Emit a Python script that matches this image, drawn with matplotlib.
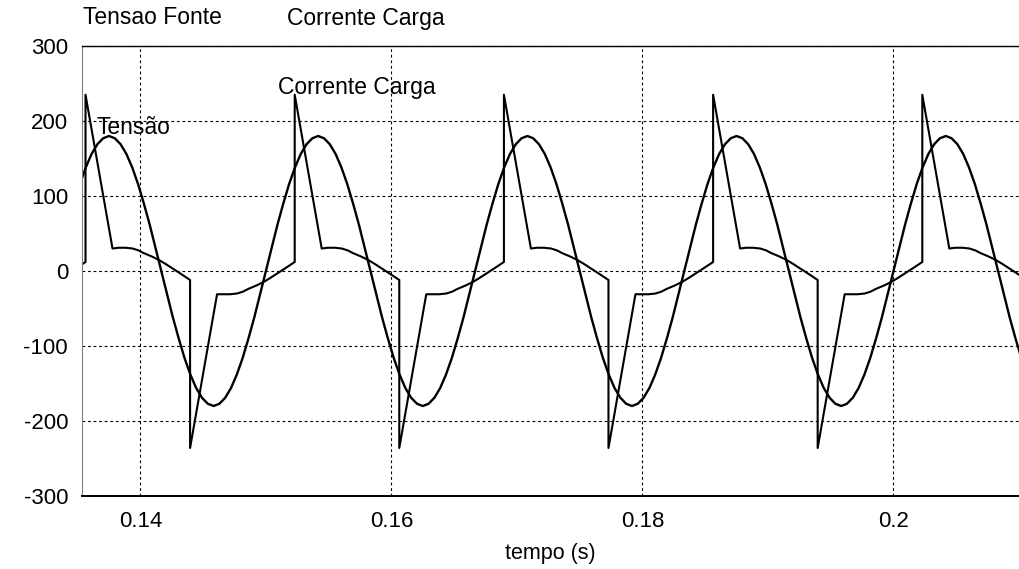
import numpy as np
import matplotlib
matplotlib.use("Agg")
import matplotlib.pyplot as plt

plt.rcParams['font.family'] = ['Liberation Sans', 'DejaVu Sans']
plt.rcParams['axes.unicode_minus'] = False

# frequencia da rede
periodo = 1 / 60  # s

# tensao da fonte: leitura a cada 10 graus de um ciclo (V), ciclo comeca no zero de subida
tensao_ciclo = [0, 31, 62, 90, 116, 138, 156, 169, 177, 180, 177, 169, 156, 138, 116, 90, 62, 31,
                0, -31, -62, -90, -116, -138, -156, -169, -177, -180, -177, -169, -156, -138, -116, -90, -62, -31]
ciclos_tensao = [8, 9, 10, 11, 12]

# corrente da carga: pontos lidos em um ciclo (ms a partir do pico positivo, A)
corrente_t_ms = [0, 0, 2.15, 2.63, 3.19, 3.75, 4.22, 4.62, 5.26, 5.82, 6.37, 6.93, 7.57, 8.33,
                 8.33, 10.48, 10.96, 11.52, 12.08, 12.55, 12.95, 13.59, 14.15, 14.70, 15.26, 15.90]
corrente_ciclo = [12, 235, 30, 31, 31, 30, 27.5, 24, 19.5, 15, 9.5, 3.5, -3.5, -12,
                  -236, -31, -31, -31, -30, -27.5, -24, -19.5, -15, -9.5, -3.5, 3.5]
inicio_corrente = 0.13563  # s, primeiro pico visivel
ciclos_corrente = [-1, 0, 1, 2, 3, 4]

# monta as series repetindo o ciclo lido
fase = np.arange(len(tensao_ciclo)) / len(tensao_ciclo) * periodo
t_tensao = np.concatenate([fase + k * periodo for k in ciclos_tensao])
v_tensao = np.tile(tensao_ciclo, len(ciclos_tensao))

t_corr = np.concatenate([np.array(corrente_t_ms) / 1000 + inicio_corrente + k * periodo
                         for k in ciclos_corrente])
i_corr = np.tile(corrente_ciclo, len(ciclos_corrente))

fig = plt.figure(figsize=(10.19, 5.69), dpi=100)
ax = fig.add_axes([82 / 1019, 1 - 496 / 569, 1 - 82 / 1019, 450 / 569])

ax.plot(t_tensao, v_tensao, color='black', lw=1.7)
ax.plot(t_corr, i_corr, color='black', lw=1.5)

ax.set_xlim(0.13535, 0.2100)
ax.set_ylim(-300, 300)
ax.set_xticks([0.14, 0.16, 0.18, 0.2])
ax.set_xticklabels(['0.14', '0.16', '0.18', '0.2'])
ax.set_yticks([-300, -200, -100, 0, 100, 200, 300])
ax.tick_params(axis='both', length=0, labelsize=16)
ax.tick_params(axis='y', pad=10)
ax.tick_params(axis='x', pad=11)
ax.grid(True, color='black', linestyle=(0, (2.5, 2.5)), linewidth=0.8)

ax.spines['right'].set_visible(False)
ax.spines['left'].set_color('#808080')
ax.spines['top'].set_linewidth(1.0)
ax.spines['bottom'].set_linewidth(1.4)

ax.set_xlabel('tempo (s)', fontsize=15.5, labelpad=8)

# legendas no topo
fig.text(83 / 1019, 1 - 18 / 569, 'Tensao Fonte', fontsize=16.5, va='center', ha='left')
fig.text(287 / 1019, 1 - 18 / 569, 'Corrente Carga', fontsize=16.5, va='center', ha='left')

# rotulos das curvas
ax.text(0.15096, 245, 'Corrente Carga', fontsize=16.5, va='center', ha='left')
ax.text(0.13654, 191, 'Tensão', fontsize=16.5, va='center', ha='left')

fig.savefig('out.png', dpi=100)
